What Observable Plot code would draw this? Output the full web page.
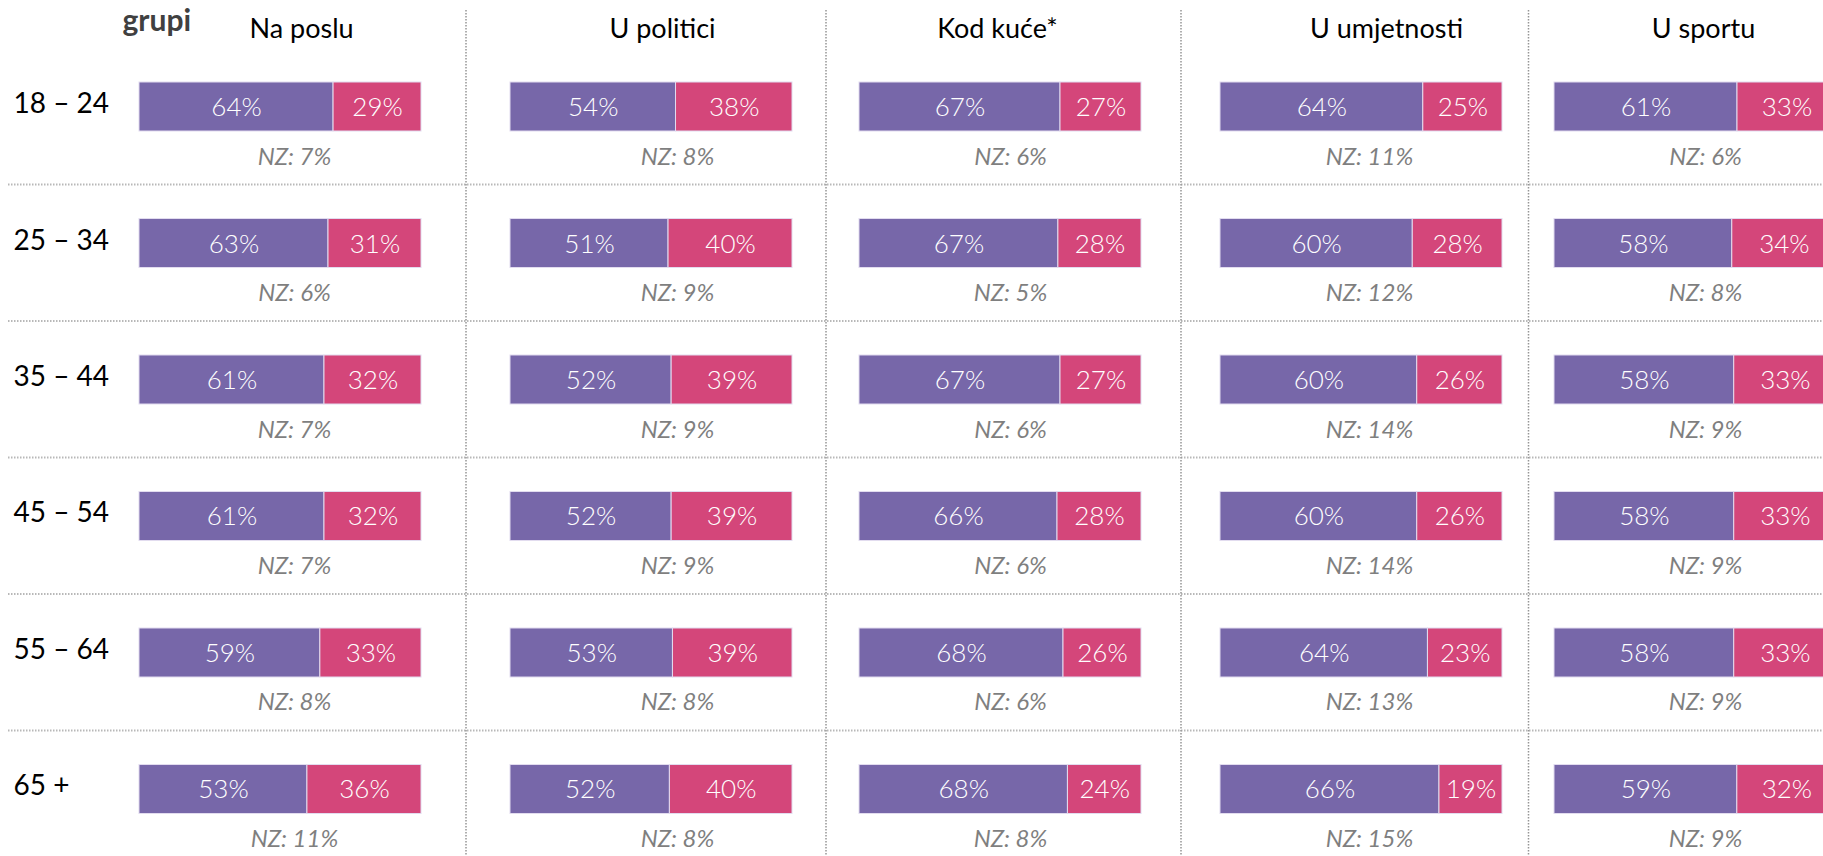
<!DOCTYPE html>
<html>
<head>
<meta charset="utf-8">
<script src="https://cdn.jsdelivr.net/npm/d3@7"></script>
<script src="https://cdn.jsdelivr.net/npm/@observablehq/plot@0.6"></script>
<style>
  body { margin: 0; background: #fff; }
  #chart { position: relative; width: 1823px; height: 856px; overflow: hidden; background: #fff; }
  #chart svg { position: absolute; left: 0; top: 0; }
</style>
</head>
<body>
<div id="chart"></div>
<script>
// ---- Data ----
const ageGroups = ["18 – 24", "25 – 34", "35 – 44", "45 – 54", "55 – 64", "65 +"];
const topics = ["Na poslu", "U politici", "Kod kuće*", "U umjetnosti", "U sportu"];
const seriesKeys = ["prvi", "drugi"];
const headingText = "grupi";

const naPosluFirst = [64, 63, 61, 61, 59, 53];
const naPosluSecond = [29, 31, 32, 32, 33, 36];
const naPosluNZ = [7, 6, 7, 7, 8, 11];

const uPoliticiFirst = [54, 51, 52, 52, 53, 52];
const uPoliticiSecond = [38, 40, 39, 39, 39, 40];
const uPoliticiNZ = [8, 9, 9, 9, 8, 8];

const kodKuceFirst = [67, 67, 67, 66, 68, 68];
const kodKuceSecond = [27, 28, 27, 28, 26, 24];
const kodKuceNZ = [6, 5, 6, 6, 6, 8];

const uUmjetnostiFirst = [64, 60, 60, 60, 64, 66];
const uUmjetnostiSecond = [25, 28, 26, 26, 23, 19];
const uUmjetnostiNZ = [11, 12, 14, 14, 13, 15];

const uSportuFirst = [61, 58, 58, 58, 58, 59];
const uSportuSecond = [33, 34, 33, 33, 33, 32];
const uSportuNZ = [6, 8, 9, 9, 9, 9];

const firstByTopic = [naPosluFirst, uPoliticiFirst, kodKuceFirst, uUmjetnostiFirst, uSportuFirst];
const secondByTopic = [naPosluSecond, uPoliticiSecond, kodKuceSecond, uUmjetnostiSecond, uSportuSecond];
const nzByTopic = [naPosluNZ, uPoliticiNZ, kodKuceNZ, uUmjetnostiNZ, uSportuNZ];

// ---- Layout (pixels) ----
const W = 1823, H = 856;
const FONT = "Lato, 'Open Sans', sans-serif";
const colors = ["#7767A9", "#D4467A"];
const barLeft = [139, 510, 859, 1220, 1554];
const barWidth = 282;
const titleDx = [21, 11, -3, 25, 8];
const nzDx = [14, 26, 10, 8, 10];
const yOpts = {
  type: "band", domain: ageGroups, range: [82, 813.5],
  paddingInner: 0.641, paddingOuter: 0, align: 0.5, round: false, axis: null
};
const dividers = d3.range(barLeft.length - 1).map(i => (barLeft[i] + barWidth + barLeft[i + 1]) / 2);

const chart = document.getElementById("chart");

// Base layer: separators, dividers, row labels, heading
const base = Plot.plot({
  width: W, height: H,
  marginTop: 10, marginLeft: 8, marginRight: 0, marginBottom: 0,
  style: {background: "transparent"},
  x: {type: "identity", axis: null},
  y: yOpts,
  marks: [
    Plot.ruleY(ageGroups.slice(0, -1), {y: d => d, dy: 77.5, stroke: "#b8b8b8", strokeWidth: 2, strokeDasharray: "1.5,1.5"}),
    Plot.ruleX(dividers, {x: d => d, stroke: "#959595", strokeWidth: 1.5, strokeDasharray: "1.5,1.5"}),
    Plot.text(ageGroups, {y: d => d, text: d => d, frameAnchor: "left", textAnchor: "start", dx: 5, lineAnchor: "bottom", dy: 6, fontSize: 28, fontFamily: FONT, fill: "#000"}),
    Plot.text([headingText], {text: d => d, frameAnchor: "top-left", textAnchor: "start", dx: 114, dy: 20, lineAnchor: "bottom", fontSize: 30, fontWeight: "bold", fontFamily: FONT, fill: "#404040"})
  ]
});
chart.appendChild(base);

topics.forEach((topic, i) => {
  const rows = [];
  ageGroups.forEach((age, r) => {
    rows.push({age, series: seriesKeys[0], value: firstByTopic[i][r]});
    rows.push({age, series: seriesKeys[1], value: secondByTopic[i][r]});
  });
  const nzRows = ageGroups.map((age, r) => ({age, nz: nzByTopic[i][r]}));
  const p = Plot.plot({
    width: W, height: H, margin: 0,
    style: {background: "transparent"},
    x: {domain: [0, 1], range: [barLeft[i], barLeft[i] + barWidth], axis: null},
    y: yOpts,
    color: {domain: seriesKeys, range: colors},
    marks: [
      Plot.barX(rows, Plot.stackX({offset: "normalize", x: "value", y: "age", fill: "series", stroke: "#e2dcef", strokeWidth: 1})),
      Plot.text(rows, Plot.stackX({offset: "normalize", x: "value", y: "age", text: d => d.value + "%", fill: "white", fontSize: 26, fontWeight: 300, fontFamily: FONT, lineAnchor: "bottom", dy: 9})),
      Plot.text(nzRows, {x: () => 0.5, y: "age", text: d => `NZ: ${d.nz}%`, dx: nzDx[i], dy: 57.5, lineAnchor: "bottom", fontSize: 24, fontStyle: "italic", fontFamily: FONT, fill: "#7f7f7f"}),
      Plot.text([topic], {x: () => 0.5, text: d => d, frameAnchor: "top", dx: titleDx[i], dy: 37, lineAnchor: "bottom", fontSize: 27, fontFamily: FONT, fill: "#000"})
    ]
  });
  chart.appendChild(p);
});
</script>
</body>
</html>
